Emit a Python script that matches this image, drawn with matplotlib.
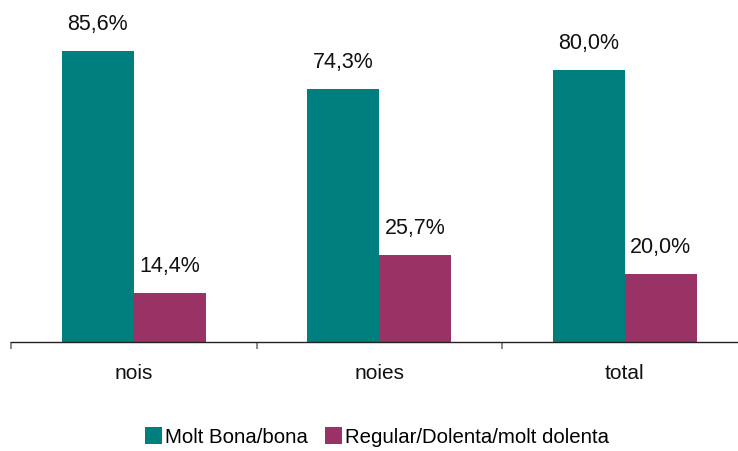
import matplotlib
matplotlib.use("Agg")
import matplotlib.pyplot as plt
import numpy as np

categories = ["nois", "noies", "total"]
series_names = ["Molt Bona/bona", "Regular/Dolenta/molt dolenta"]
good = [85.6, 74.3, 80.0]
bad = [14.4, 25.7, 20.0]
colors = ["#007F7F", "#993366"]

plt.rcParams['font.family'] = ['Liberation Sans', 'DejaVu Sans']

W, H = 738, 451
fig = plt.figure(figsize=(W/100, H/100), dpi=100)
base_y = 342
top_y = 2
left_x = 11
right_x = 747.5
ax = fig.add_axes([left_x/W, 1 - base_y/H, (right_x-left_x)/W, (base_y-top_y)/H])

x = np.arange(len(categories))
bw = 0.293
b1 = ax.bar(x - bw/2, good, bw, color=colors[0], label=series_names[0])
b2 = ax.bar(x + bw/2, bad, bw, color=colors[1], label=series_names[1])

for bars, vals in ((b1, good), (b2, bad)):
    for r, v in zip(bars, vals):
        ax.annotate(f"{v:.1f}%".replace(".", ","),
                    (r.get_x() + r.get_width()/2, v),
                    xytext=(0, 19), textcoords="offset points",
                    ha="center", va="center", fontsize=15.5, color="#111111")

ax.set_xlim(-0.5, 2.5)
ax.set_ylim(0, 100)
ax.set_yticks([])
for s in ("top", "right", "left"):
    ax.spines[s].set_visible(False)
ax.spines["bottom"].set_color("#222222")
ax.spines["bottom"].set_linewidth(1.0)
ax.set_xticks(x, categories, fontsize=15)
ax.tick_params(axis="x", which="major", length=0, pad=16, colors="#111111")
ax.set_xticks([-0.5, 0.5, 1.5, 2.5], minor=True)
ax.tick_params(axis="x", which="minor", length=5, width=1.2, color="#777777", direction="out")

fig.legend(handles=[b1, b2], labels=series_names, loc="center",
           bbox_to_anchor=(377/W, 1 - 437/H), ncol=2, frameon=False,
           fontsize=14.7, handlelength=0.85, handleheight=0.85,
           handletextpad=0.15, columnspacing=0.8)

fig.savefig("out.png", dpi=100)
